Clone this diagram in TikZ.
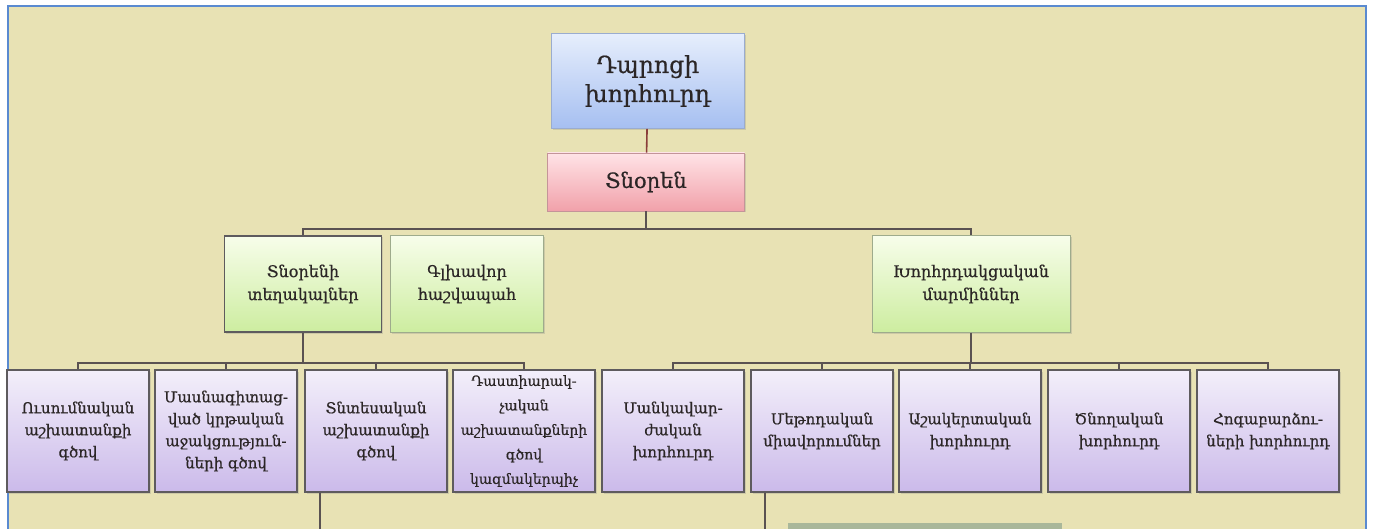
\documentclass[tikz,border=0pt]{standalone}
\usepackage{fontspec}
\setmainfont{DejaVu Serif}[FakeBold=0.6]
\usetikzlibrary{shadows}
\definecolor{paper}{HTML}{E8E2B4}
\definecolor{frameblue}{HTML}{5A8AD0}
\definecolor{ink}{HTML}{2B2626}
\definecolor{blueA}{HTML}{E6EEFC}
\definecolor{blueB}{HTML}{A6BFF1}
\definecolor{pinkA}{HTML}{FFE3E6}
\definecolor{pinkB}{HTML}{F1A1AA}
\definecolor{greenA}{HTML}{F7FDEA}
\definecolor{greenB}{HTML}{CDEDA0}
\definecolor{lilacA}{HTML}{F3EFFA}
\definecolor{lilacB}{HTML}{CBBAEA}
\definecolor{boxline}{HTML}{5E5B5E}
\definecolor{wire}{HTML}{5A5252}
\definecolor{rootwire}{HTML}{8A3E3A}
\definecolor{nextbox}{HTML}{A9B79A}
\begin{document}
\begin{tikzpicture}[x=1pt,y=-1pt,
  box/.style={draw=boxline,line width=1.4pt,align=center,inner sep=0pt,text=ink,
    drop shadow={opacity=0.25,shadow xshift=1.5pt,shadow yshift=-1.5pt}},
  rootbox/.style={box,top color=blueA,bottom color=blueB,draw=blueB!70!gray,line width=0.8pt,
    minimum width=193pt,minimum height=95pt,font=\fontsize{23.5}{29}\selectfont},
  headbox/.style={box,top color=pinkA,bottom color=pinkB,draw=pinkB!60!gray,line width=0.8pt,
    minimum width=197pt,minimum height=58pt,font=\fontsize{21}{27}\selectfont},
  midbox/.style={box,top color=greenA,bottom color=greenB,draw=greenB!40!gray,line width=1pt,
    minimum height=96pt,font=\fontsize{16}{23}\selectfont},
  lowbox/.style={box,top color=lilacA,bottom color=lilacB,
    minimum width=142pt,minimum height=122pt,font=\fontsize{15}{22}\selectfont},
  wireline/.style={draw=wire,line width=1.6pt}]
\useasboundingbox (0,0) rectangle (1373,529);
\clip (0,0) rectangle (1373,529);
\fill[white] (0,0) rectangle (1373,529);
\draw[fill=paper,draw=frameblue,line width=2.2pt] (8,6) rectangle (1366,545);

\node[rootbox] (school) at (648,81) {Դպրոցի\\խորհուրդ};
\node[headbox] (director) at (646,182) {Տնօրեն};
\node[midbox,minimum width=157pt,draw=boxline,line width=1.6pt] (deputies) at (303,284) {Տնօրենի\\տեղակալներ};
\node[midbox,minimum width=153pt] (accountant) at (467,284) {Գլխավոր\\հաշվապահ};
\node[midbox,minimum width=198pt] (councils) at (971,284) {Խորհրդակցական\\մարմիններ};

\node[lowbox] (c1) at (78,431) {Ուսումնական\\աշխատանքի\\գծով};
\node[lowbox] (c2) at (226,431) {Մասնագիտաց-\\ված կրթական\\աջակցություն-\\ների գծով};
\node[lowbox] (c3) at (376,431) {Տնտեսական\\աշխատանքի\\գծով};
\node[lowbox,font=\fontsize{14}{24.5}\selectfont] (c4) at (524,431) {Դաստիարակ-\\չական\\աշխատանքների\\գծով\\կազմակերպիչ};
\node[lowbox] (c5) at (673,431) {Մանկավար-\\ժական\\խորհուրդ};
\node[lowbox] (c6) at (822,431) {Մեթոդական\\միավորումներ};
\node[lowbox] (c7) at (970,431) {Աշակերտական\\խորհուրդ};
\node[lowbox] (c8) at (1119,431) {Ծնողական\\խորհուրդ};
\node[lowbox] (c9) at (1268,431) {Հոգաբարձու-\\ների խորհուրդ};

\coordinate (bar1) at (646,229);
\coordinate (bar2) at (303,363);
\coordinate (bar3) at (971,363);
\coordinate (drop1) at (320,540);
\coordinate (drop2) at (765,540);

\draw[draw=rootwire,line width=1.6pt] (school) -- (director);
\draw[wireline] (director.south) -- (bar1);
\draw[wireline] (deputies.north) |- (bar1) -| (councils.north);
\draw[wireline] (deputies.south) -- (bar2);
\draw[wireline] (councils.south) -- (bar3);
\foreach \i in {1,...,4} \draw[wireline] (c\i.north) |- (bar2);
\foreach \i in {5,...,9} \draw[wireline] (c\i.north) |- (bar3);
\draw[wireline] (c3.south -| drop1) -- (drop1);
\draw[wireline] (c6.south -| drop2) -- (drop2);
\fill[nextbox] (788,523) rectangle (1062,545);
\end{tikzpicture}
\end{document}
